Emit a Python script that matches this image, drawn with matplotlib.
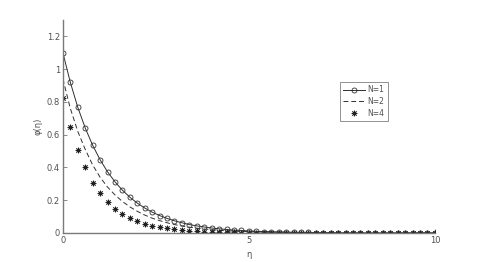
import numpy as np
import matplotlib
matplotlib.use("Agg")
import matplotlib.pyplot as plt

eta = np.round(np.arange(0, 10.0001, 0.2), 1)

phi_n1 = [1.100, 0.919, 0.767, 0.641, 0.535, 0.447, 0.373, 0.312, 0.261, 0.218,
          0.182, 0.152, 0.127, 0.106, 0.0885, 0.074, 0.062, 0.051, 0.043, 0.036,
          0.030, 0.025, 0.021, 0.017, 0.015, 0.012, 0.010, 0.008, 0.007, 0.006,
          0.005, 0.004, 0.003, 0.003, 0.002, 0.002, 0.002, 0.001, 0.001, 0.001,
          0.001, 0.0, 0.0, 0.0, 0.0, 0.0, 0.0, 0.0, 0.0, 0.0, 0.0]

phi_n2 = [0.940, 0.760, 0.620, 0.510, 0.415, 0.340, 0.280, 0.232, 0.192, 0.159,
          0.132, 0.109, 0.090, 0.075, 0.062, 0.051, 0.042, 0.035, 0.029, 0.024,
          0.020, 0.016, 0.013, 0.011, 0.009, 0.0075, 0.006, 0.005, 0.004, 0.0035,
          0.003, 0.002, 0.002, 0.002, 0.002, 0.002, 0.001, 0.001, 0.001, 0.001,
          0.001, 0.0, 0.0, 0.0, 0.0, 0.0, 0.0, 0.0, 0.0, 0.0, 0.0]

phi_n4 = [0.826, 0.646, 0.508, 0.400, 0.307, 0.242, 0.189, 0.145, 0.114, 0.090,
          0.071, 0.055, 0.043, 0.034, 0.027, 0.021, 0.016, 0.013, 0.010, 0.008,
          0.006, 0.005, 0.004, 0.003, 0.002, 0.002, 0.001, 0.001, 0.001, 0.0,
          0.0, 0.0, 0.0, 0.0, 0.0, 0.0, 0.0, 0.0, 0.0, 0.0,
          0.0, 0.0, 0.0, 0.0, 0.0, 0.0, 0.0, 0.0, 0.0, 0.0, 0.0]

xticks = [0, 5, 10]
yticks = [0, 0.2, 0.4, 0.6, 0.8, 1.0, 1.2]
ytick_labels = ["0", "0.2", "0.4", "0.6", "0.8", "1", "1.2"]

fig = plt.figure(figsize=(4.8, 2.62), dpi=100)
ax = fig.add_axes([0.131, 0.111, 0.775, 0.813])

lc = "#303030"
ax.plot(eta, phi_n1, color=lc, lw=0.7, marker="o", ms=3.6, mfc="none",
        mec=lc, mew=0.6, label="N=1")
ax.plot(eta, phi_n2, color=lc, lw=0.7, ls=(0, (5, 3)), label="N=2")
ax.plot(eta, phi_n4, ls="none", marker=(8, 2, 0), ms=4.0, color="#202020",
        mec="#202020", mew=0.6, label="N=4")

ax.set_xlim(0, 10)
ax.set_ylim(0, 1.3)
ax.set_xticks(xticks)
ax.set_xticklabels([str(t) for t in xticks])
ax.set_yticks(yticks)
ax.set_yticklabels(ytick_labels)

gray = "#7a7a7a"
for s in ["top", "right"]:
    ax.spines[s].set_visible(False)
for s in ["left", "bottom"]:
    ax.spines[s].set_color(gray)
    ax.spines[s].set_linewidth(1.0)
ax.tick_params(direction="in", length=3, width=0.6, color=gray,
               labelsize=6, labelcolor="#505050", pad=2)

ax.set_xlabel("η", fontsize=6, color="#505050", labelpad=4)
ax.set_ylabel("φ(η)", fontsize=6, color="#505050", labelpad=3)

leg = ax.legend(loc="upper left", bbox_to_anchor=(0.735, 0.725), fontsize=5.5,
                frameon=True, fancybox=False, edgecolor="#606060",
                handlelength=2.8, handletextpad=0.4, borderpad=0.4,
                labelspacing=0.35)
leg.get_frame().set_linewidth(0.6)
for t in leg.get_texts():
    t.set_color("#505050")

fig.savefig("out.png", dpi=100)
